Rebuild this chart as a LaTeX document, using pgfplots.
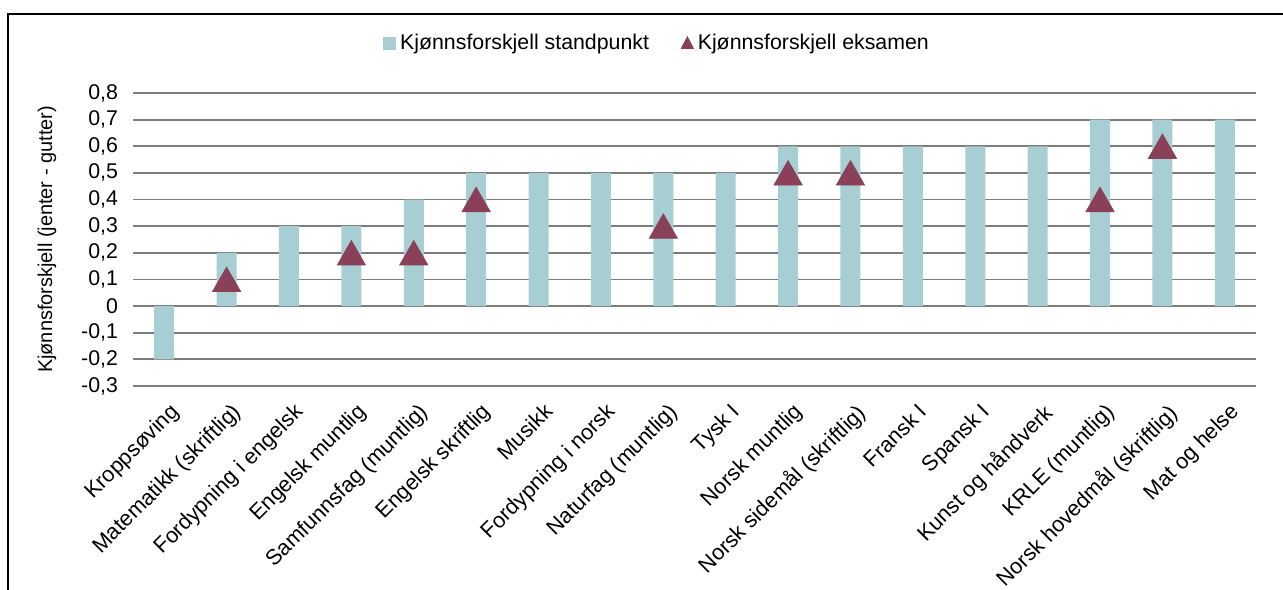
\documentclass[border=0pt]{standalone}
\usepackage{pgfplots}
\pgfplotsset{compat=1.18}
\usepackage{fontspec}
\setmainfont{Liberation Sans}
\definecolor{barc}{HTML}{A7CFD3}
\definecolor{tric}{HTML}{8A4058}
\definecolor{gridc}{HTML}{7C7C7C}
\begin{document}
\begin{tikzpicture}
\path[use as bounding box] (0,0) rectangle (641.5bp,295bp);
\draw[line width=1.3bp] (4bp,0) -- (4bp,288bp) -- (641.5bp,288bp);
\begin{axis}[
  at={(66.5bp,102bp)}, anchor=south west,
  scale only axis, width=561.5bp, height=146.5bp,
  xmin=-0.5, xmax=17.5, ymin=-0.3, ymax=0.8,
  ytick={-0.3,-0.2,-0.1,0,0.1,0.2,0.3,0.4,0.5,0.6,0.7,0.8},
  xtick={0,...,17},
  xticklabels={Kroppsøving,Matematikk (skriftlig),Fordypning i engelsk,Engelsk muntlig,Samfunnsfag (muntlig),Engelsk skriftlig,Musikk,Fordypning i norsk,Naturfag (muntlig),Tysk I,Norsk muntlig,Norsk sidemål (skriftlig),Fransk I,Spansk I,Kunst og håndverk,KRLE (muntlig),Norsk hovedmål (skriftlig),Mat og helse},
  axis line style={draw=none},
  tick style={draw=none},
  ymajorgrids,
  grid style={gridc, line width=0.9bp},
  /pgf/number format/.cd, use comma, fixed, fixed zerofill, precision=1, assume math mode=true,
  /pgfplots/.cd,
  yticklabel={\ifdim\tick pt=0pt 0\else\pgfmathprintnumber{\tick}\fi},
  yticklabel style={font=\fontsize{10.7}{12}\selectfont, xshift=-4bp},
  xticklabel style={font=\fontsize{10.9}{12}\selectfont, rotate=45, anchor=north east, inner sep=1bp, xshift=-3bp, yshift=-6bp},
  ylabel={Kjønnsforskjell (jenter - gutter)},
  ylabel style={font=\fontsize{10.7}{12}\selectfont},
  every axis y label/.style={at={(axis description cs:-0.0766,0.5)}, rotate=90, anchor=center},
  legend style={at={(axis description cs:0.4675,1.17)}, anchor=center, draw=none, font=\fontsize{10.7}{12}\selectfont, legend columns=2, /tikz/every even column/.append style={column sep=14bp}},
  legend cell align=left,
]
\addplot[ybar, bar width=10bp, fill=barc, draw=none,
  legend image code/.code={\fill[barc] (0bp,-3.2bp) rectangle (6.5bp,3.2bp);}]
  coordinates {(0,-0.2) (1,0.2) (2,0.3) (3,0.3) (4,0.4) (5,0.5) (6,0.5) (7,0.5) (8,0.5) (9,0.5) (10,0.6) (11,0.6) (12,0.6) (13,0.6) (14,0.6) (15,0.7) (16,0.7) (17,0.7)};
\addlegendentry{Kjønnsforskjell standpunkt}
\addplot[only marks, mark=triangle*, mark size=8.1bp, color=tric, mark options={fill=tric, draw=none, yshift=-2bp},
  legend image code/.code={\fill[tric] (0bp,-2.6bp) -- (6bp,-2.6bp) -- (3bp,3.2bp) -- cycle;}]
  coordinates {(1,0.1) (3,0.2) (4,0.2) (5,0.4) (8,0.3) (10,0.5) (11,0.5) (15,0.4) (16,0.6)};
\addlegendentry{Kjønnsforskjell eksamen}
\end{axis}
\end{tikzpicture}
\end{document}
